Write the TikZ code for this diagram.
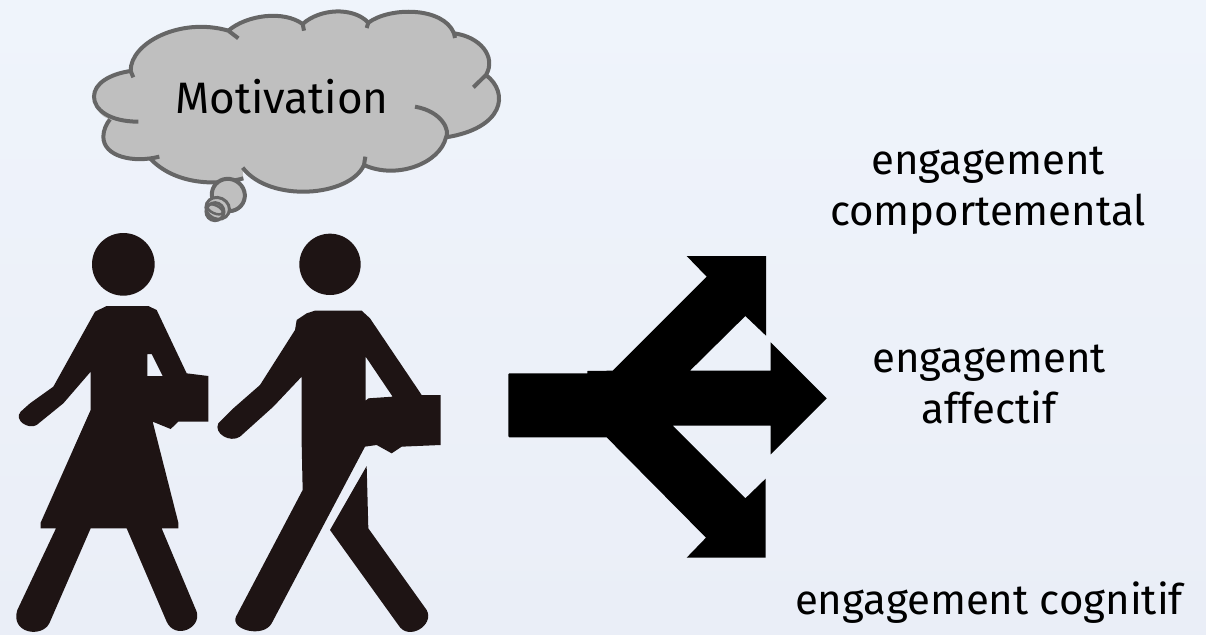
\documentclass[tikz,border=0pt]{standalone}
\usepackage{fontspec}
\setmainfont{Fira Sans}
\definecolor{figblack}{HTML}{1E1414}
\definecolor{cloudfill}{HTML}{BFBFBF}
\definecolor{cloudline}{HTML}{666666}
\definecolor{bgtop}{HTML}{EFF4FB}
\definecolor{bgbot}{HTML}{EAEEF7}
\tikzset{
  lbl/.style={font=\fontsize{42}{51}\selectfont, align=center, text=black, inner sep=0pt},
  fig/.style={fill=figblack, draw=none},
  cloudarc/.style={draw=cloudline, line width=4pt},
  zoomed/.style={x=0.33333pt, y=-0.33333pt}
}
\begin{document}
\begin{tikzpicture}[x=1pt,y=-1pt]
\useasboundingbox (0,0) rectangle (1206,634);
\shade[top color=bgtop, bottom color=bgbot] (0,0) rectangle (1206,634);

% cloud
\begin{scope}[shift={(80,0)}, zoomed]
\fill[cloudfill] (42,290) .. controls (42,250) and (90,222) .. (152,213)
  .. controls (150,130) and (300,60) .. (445,92)
  .. controls (500,45) and (610,30) .. (668,72)
  .. controls (720,25) and (820,20) .. (865,68)
  .. controls (930,20) and (1090,20) .. (1122,100)
  .. controls (1200,110) and (1250,170) .. (1218,225)
  .. controls (1290,280) and (1270,385) .. (1098,412)
  .. controls (1080,490) and (950,540) .. (852,495)
  .. controls (810,590) and (570,610) .. (488,510)
  -- (490,535)
  .. controls (400,560) and (280,550) .. (210,475)
  .. controls (160,490) and (70,470) .. (70,410)
  .. controls (70,390) and (80,370) .. (90,358)
  .. controls (60,350) and (42,320) .. (42,290) -- cycle;
\draw[cloudarc] (175,365) .. controls (90,365) and (42,330) .. (42,290)
  .. controls (42,250) and (90,222) .. (152,213) -- (160,232);
\draw[cloudarc] (152,213) .. controls (150,130) and (300,50) .. (445,92) -- (475,115);
\draw[cloudarc] (445,92) .. controls (500,45) and (610,30) .. (668,72) -- (672,92);
\draw[cloudarc] (668,72) .. controls (720,25) and (820,20) .. (865,68) -- (860,84);
\draw[cloudarc] (865,68) .. controls (930,20) and (1090,20) .. (1122,100) -- (1125,114);
\draw[cloudarc] (1122,100) .. controls (1200,110) and (1250,170) .. (1218,225) -- (1180,262);
\draw[cloudarc] (1218,225) .. controls (1290,280) and (1270,385) .. (1098,412);
\draw[cloudarc] (1005,320) .. controls (1090,335) and (1110,395) .. (1098,412)
  .. controls (1080,490) and (950,540) .. (852,495);
\draw[cloudarc] (856,470) -- (852,495) .. controls (810,590) and (570,610) .. (488,503);
\draw[cloudarc] (490,535) .. controls (400,560) and (280,550) .. (210,475);
\draw[cloudarc] (238,470) .. controls (160,490) and (70,470) .. (70,410)
  .. controls (70,390) and (80,370) .. (90,358);
\filldraw[cloudarc, fill=cloudfill, rotate around={-30:(445,585)}] (445,585) ellipse (50 and 48);
\draw[draw=cloudline, line width=3pt, fill=cloudfill, rotate around={-25:(413,625)}] (413,625) ellipse (36 and 32);
\draw[draw=cloudline, line width=3pt, rotate around={-25:(405,635)}] (405,635) ellipse (27 and 27);
\draw[draw=cloudline, line width=2.5pt, rotate around={-25:(405,628)}] (405,628) ellipse (25 and 12);
\end{scope}
\node[lbl, font=\fontsize{44}{51}\selectfont] (motivation) at (282,97) {Motivation};

% woman
\begin{scope}[shift={(0,220)}, zoomed]
\fill[fig] (370,133) circle (94);
\fill[fig, even odd rule] (320,258) -- (445,258) -- (470,270) -- (560,460) -- (625,468) -- (625,605) -- (535,605) -- (512,627) -- (458,605)
  -- (535,908) -- (535,925) -- (485,925) -- (590,1175) .. controls (605,1225) and (525,1260) .. (500,1205)
  -- (380,925) -- (272,925) -- (148,1210) .. controls (125,1255) and (30,1240) .. (52,1170)
  -- (168,925) -- (122,925) -- (122,908) -- (272,570) -- (272,455) -- (190,550) -- (110,615) .. controls (85,630) and (40,600) .. (62,575)
  -- (90,550) -- (160,500) -- (285,275) -- cycle
  (442,402) -- (455,402) -- (488,468) -- (442,468) -- cycle;
% man
\fill[fig] (990,133) circle (92);
\fill[fig, even odd rule] (945,272) -- (1085,272) -- (1110,295) -- (1265,525) -- (1322,525) -- (1322,675) -- (1205,680) -- (1175,700) -- (1130,675) -- (1095,680)
  -- (815,1210) .. controls (790,1255) and (690,1230) .. (708,1190)
  -- (908,810) -- (905,670) -- (905,470) -- (820,560) -- (720,650) .. controls (690,670) and (640,640) .. (655,610)
  -- (700,565) -- (780,495) -- (885,330) -- (890,300) -- (920,280) -- cycle
  (1097,410) -- (1178,530) -- (1105,535) -- (1097,542) -- cycle;
\fill[fig] (1100,738) -- (1105,925) -- (1280,1170) .. controls (1305,1215) and (1225,1265) .. (1195,1215) -- (990,930) -- cycle;
\end{scope}

% arrow
\begin{scope}[shift={(490,240)}, zoomed]
\fill[black] (58,400) -- (292,400) -- (292,393) -- (368,392) -- (650,110) -- (590,48) -- (828,48) -- (828,287) -- (766,228) -- (600,392) -- (842,392) -- (842,307) -- (1010,475) -- (842,643) -- (842,557) -- (548,557) -- (766,775) -- (827,716) -- (827,953) -- (590,953) -- (648,893) -- (350,592) -- (58,592) -- (55,589) -- (55,403) -- cycle;
\end{scope}

\node[lbl] (comp) at (988,191) {engagement\\comportemental};
\node[lbl] (aff) at (989,384) {engagement\\affectif};
\node[lbl] (cog) at (989,603) {engagement cognitif};
\end{tikzpicture}
\end{document}
